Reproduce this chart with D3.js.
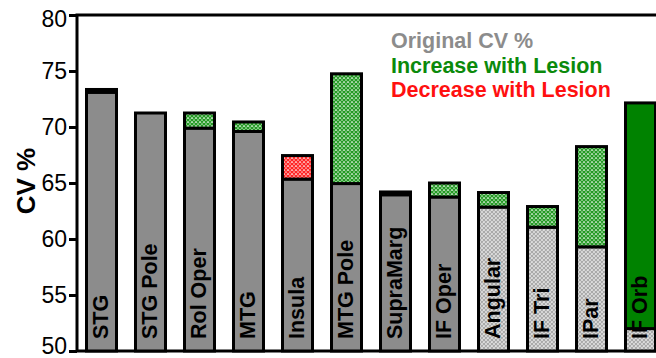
<!DOCTYPE html>
<html lang="en">
<head>
<meta charset="UTF-8">
<title>CV % by region</title>
<script src="https://d3js.org/d3.v7.min.js"></script>
<style>
  body { margin: 0; background: #fff; }
  svg { display: block; font-family: "Liberation Sans", Arial, Helvetica, sans-serif; }
  .y-axis .domain { display: none; }
  .y-axis line { stroke: #000; stroke-width: 3; }
  .y-axis text { font-size: 23px; fill: #000; }
  .bar-label { font-size: 21.5px; font-weight: bold; fill: #000; }
  .axis-title { font-size: 26px; font-weight: bold; fill: #000; }
  .legend text { font-size: 21.5px; font-weight: bold; }
</style>
</head>
<body>
<div id="chart"></div>
<script>
// Chart data
const regions = ["STG", "STG Pole", "Rol Oper", "MTG", "Insula", "MTG Pole",
  "SupraMarg", "IF Oper", "Angular", "IF Tri", "IPar", "IF Orb"];
const originalCV = [73.1, 71.25, 69.9, 69.6, 67.45, 64.95, 63.95, 63.75, 62.85, 61.05, 59.3, 52.0];
const lesionCV = [73.35, 71.25, 71.25, 70.45, 65.35, 74.75, 64.2, 65.0, 64.15, 62.9, 68.25, 72.15];
const hatchedBaseRegions = ["Angular", "IF Tri", "IPar", "IF Orb"];
const solidChangeRegions = ["IF Orb"];
const yTicks = [50, 55, 60, 65, 70, 75, 80];
const legendLabels = ["Original CV %", "Increase with Lesion", "Decrease with Lesion"];

const colors = {
  gray: "#8c8c8c",
  green: "#0b8a0b",
  solidGreen: "#008200",
  red: "#ff1010"
};

const width = 656, height = 358;
const margin = { top: 15, left: 77, bottom: 7 };

const svg = d3.select("#chart").append("svg")
  .attr("width", width)
  .attr("height", height);

// Hatch patterns
const defs = svg.append("defs");
function addHatch(id, bg, line, lw) {
  const p = defs.append("pattern")
    .attr("id", id)
    .attr("width", 4).attr("height", 4)
    .attr("patternUnits", "userSpaceOnUse");
  p.append("rect").attr("width", 4).attr("height", 4).attr("fill", bg);
  p.append("path")
    .attr("d", "M0,0L4,4M4,0L0,4M-1,3L1,5M3,-1L5,1M-1,1L1,-1M3,5L5,3")
    .attr("stroke", line).attr("stroke-width", lw);
}
addHatch("hatch-green", "#ffffff", "#249a24", 1.55);
addHatch("hatch-red", "#ffffff", "#ff2424", 1.55);
addHatch("hatch-gray", "#ffffff", "#aaaaaa", 1.4);

// Scales
const y = d3.scaleLinear()
  .domain([50, 80])
  .range([height - margin.bottom, margin.top]);

const x = d3.scaleBand()
  .domain(regions)
  .range([margin.left, margin.left + 588])
  .paddingInner(16 / 49)
  .paddingOuter(8 / 49);

// Frame
svg.append("rect")
  .attr("x", margin.left)
  .attr("y", y(80))
  .attr("width", x.range()[1] - margin.left)
  .attr("height", y(50) - y(80))
  .attr("fill", "none")
  .attr("stroke", "#000")
  .attr("stroke-width", 3);

// Y axis
const yAxis = svg.append("g")
  .attr("class", "y-axis")
  .attr("transform", `translate(${margin.left},0)`)
  .call(d3.axisLeft(y).tickValues(yTicks).tickSize(8).tickPadding(2).tickSizeOuter(0));
yAxis.selectAll("text")
  .attr("dy", d => d === 80 ? "0.5em" : d === 50 ? "0.12em" : "0.34em");

// Axis title
svg.append("text")
  .attr("class", "axis-title")
  .attr("transform", "translate(35,181) rotate(-90)")
  .attr("text-anchor", "middle")
  .text("CV %");

// Bars: base up to the lower value, change segment between the two
const bars = regions.map((r, i) => ({
  region: r,
  orig: originalCV[i],
  lesion: lesionCV[i],
  hatched: hatchedBaseRegions.includes(r),
  solidChange: solidChangeRegions.includes(r)
}));

const bw = x.bandwidth() - 3;
const g = svg.append("g");

bars.forEach(d => {
  const bx = x(d.region) + 1.5;
  const lo = Math.min(d.orig, d.lesion), hi = Math.max(d.orig, d.lesion);
  g.append("rect")
    .attr("x", bx)
    .attr("y", y(lo))
    .attr("width", bw)
    .attr("height", y(50) - y(lo))
    .attr("fill", d.hatched ? "url(#hatch-gray)" : colors.gray)
    .attr("stroke", "#000")
    .attr("stroke-width", 3);
  if (hi !== lo) {
    const up = d.lesion > d.orig;
    g.append("rect")
      .attr("x", bx)
      .attr("y", y(hi))
      .attr("width", bw)
      .attr("height", y(lo) - y(hi))
      .attr("fill", up ? (d.solidChange ? colors.solidGreen : "url(#hatch-green)") : "url(#hatch-red)")
      .attr("stroke", "#000")
      .attr("stroke-width", 3);
  }
});

// Bar labels
g.selectAll(".bar-label")
  .data(bars)
  .enter()
  .append("text")
  .attr("class", "bar-label")
  .attr("transform", d => `translate(${x(d.region) + x.bandwidth() / 2},${y(50) - 12}) rotate(-90)`)
  .attr("dy", "0.3em")
  .text(d => d.region);

// Legend
const legendColors = [colors.gray, colors.green, colors.red];
svg.append("g")
  .attr("class", "legend")
  .selectAll("text")
  .data(legendLabels)
  .enter()
  .append("text")
  .attr("x", 391)
  .attr("y", (d, i) => 48 + i * 24.5)
  .attr("fill", (d, i) => legendColors[i])
  .text(d => d);
</script>
</body>
</html>
